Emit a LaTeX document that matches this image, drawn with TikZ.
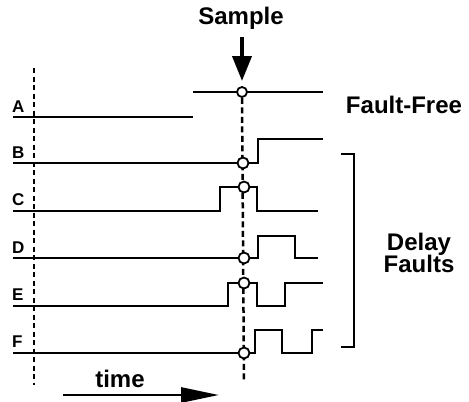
\documentclass[tikz,border=0pt]{standalone}
\usepackage{fontspec}
\setmainfont{Liberation Sans}
\usetikzlibrary{arrows.meta}
\begin{document}
\begin{tikzpicture}[x=1pt,y=-1pt,
  wave/.style={line width=2.5pt,line join=miter},
  sig/.style={font=\fontsize{17}{17}\selectfont\bfseries,anchor=base west,inner sep=0pt},
  big/.style={font=\fontsize{24}{24}\selectfont\bfseries,inner sep=0pt},
  probe/.style={circle,draw,fill=white,line width=1.8pt,inner sep=0pt,minimum size=11pt}]
\useasboundingbox (0,0) rectangle (469,402);
% reference dashed lines
\coordinate (l0) at (34,68);
\coordinate (l1) at (34,385);
\draw[line width=1.6pt,dash pattern=on 5pt off 3.5pt] (l0) -- (l1);
\coordinate (s1) at (244,382);
% fault-free
\draw[line width=2pt] (193,92) -- (323,92);
\draw[wave] (13,117) -- (193,117);
% waveforms
\draw[wave] (13,163) -- (258,163) -- (258,139) -- (323,139);
\draw[wave] (13,211) -- (220,211) -- (220,187) -- (257,187) -- (257,211) -- (318,211);
\draw[wave] (13,258) -- (258,258) -- (258,236) -- (295,236) -- (295,258) -- (318,258);
\draw[wave] (13,306) -- (228,306) -- (228,283) -- (257,283) -- (257,306) -- (285,306) -- (285,283) -- (323,283);
\draw[wave] (13,353) -- (255,353) -- (255,330) -- (282,330) -- (282,353) -- (312,353) -- (312,330) -- (323,330);
% sample line
\node[probe,minimum size=10pt] (p0) at (242,92) {};
\draw[line width=2.5pt,dash pattern=on 6pt off 3.5pt] (p0.south) -- (s1);
\node[probe] (pB) at (243,163) {};
\node[probe] (pC) at (244,187) {};
\node[probe] (pD) at (244,258) {};
\node[probe] (pE) at (244,283) {};
\node[probe] (pF) at (244,353) {};
% labels
\node[sig] (A) at (12,112) {A};
\node[sig] (B) at (12,158) {B};
\node[sig] (C) at (12,205) {C};
\node[sig] (D) at (12,253) {D};
\node[sig] (E) at (12,300) {E};
\node[sig] (F) at (12,347) {F};
% sample
\node[big,anchor=base] (samp) at (241,24) {Sample};
\coordinate (sa) at (242,37);
\coordinate (sb) at (242,81);
\draw[line width=4pt,-{Triangle[length=25pt,width=19pt]}] (sa) -- (sb);
\node[big,anchor=base] (ff) at (404,113) {Fault-Free};
% bracket
\coordinate (b0) at (341,154);
\coordinate (b1) at (341,347);
\draw[line width=2.2pt] (b0) -- (354,154) -- (354,347) -- (b1);
\node[big,anchor=base] (d1) at (419,250) {Delay};
\node[big,anchor=base] (d2) at (419,272) {Faults};
% time
\node[big,anchor=base] (tm) at (120,387) {time};
\coordinate (t0) at (63,395);
\coordinate (t1) at (219,395);
\draw[line width=2.8pt,-{Triangle[length=38pt,width=15pt]}] (t0) -- (t1);
\end{tikzpicture}
\end{document}
